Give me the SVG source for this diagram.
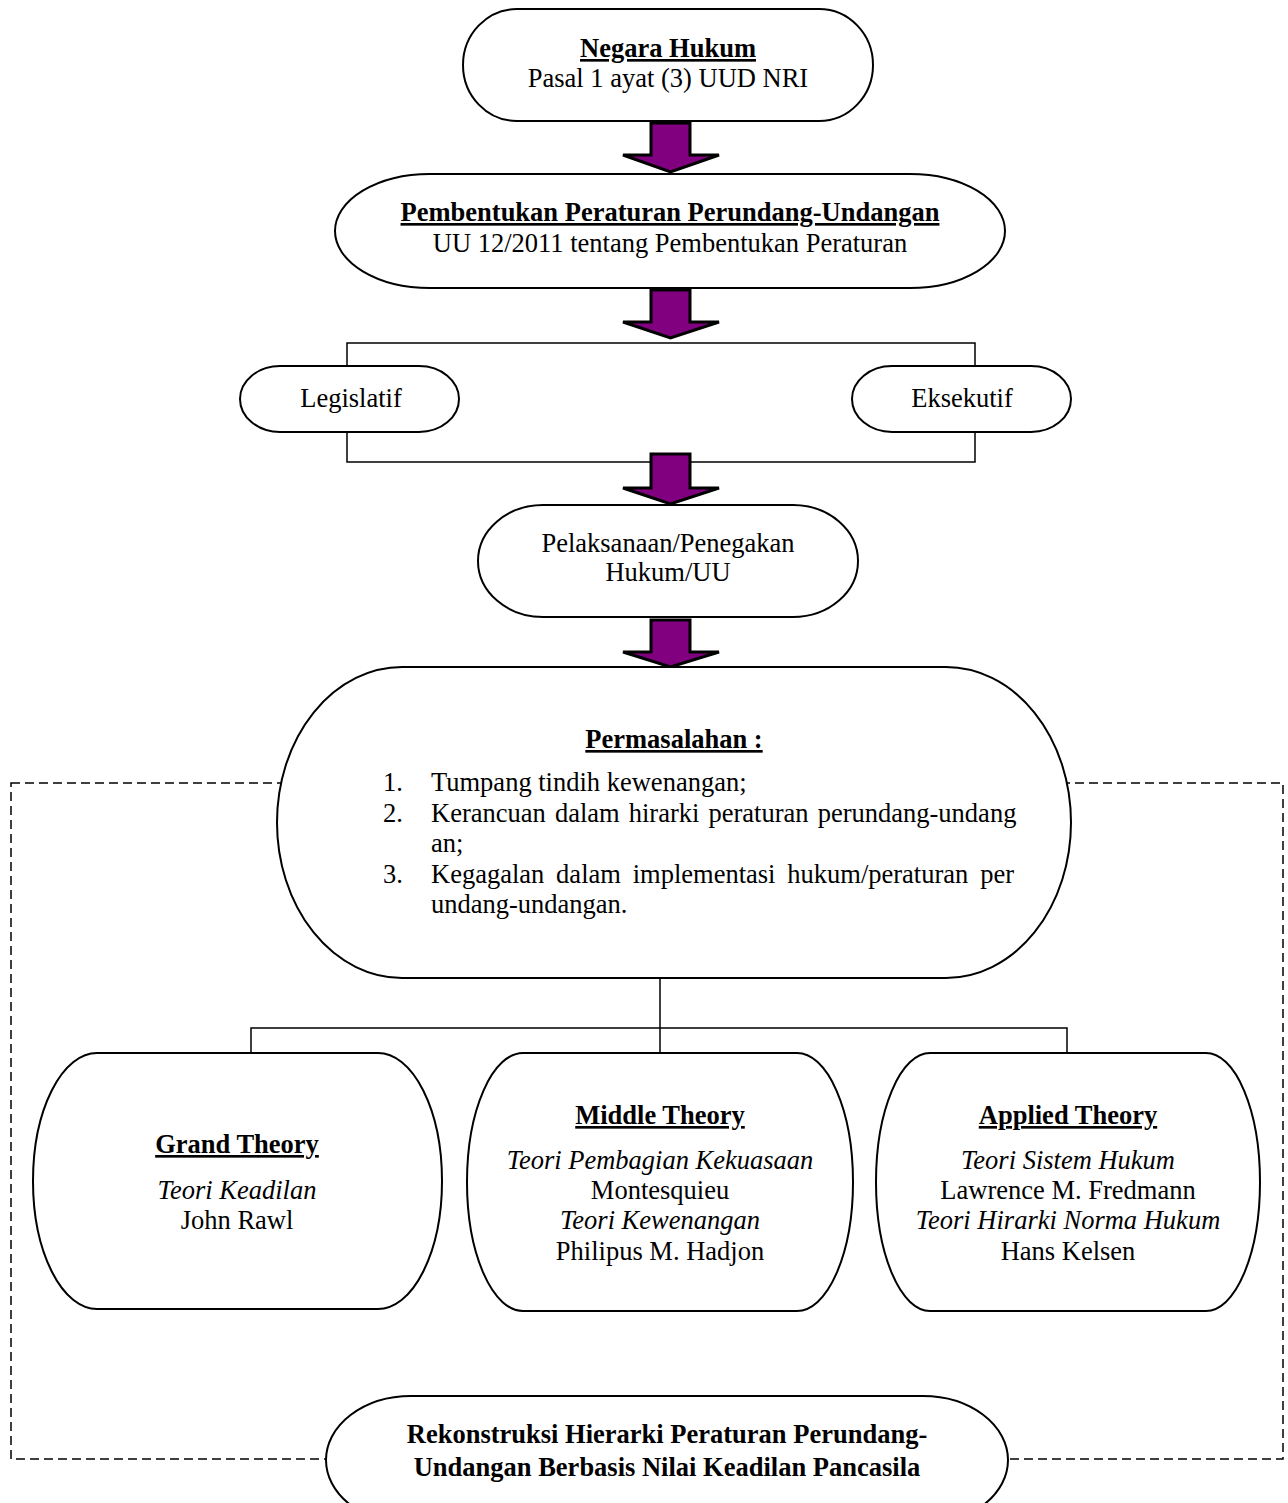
<svg xmlns="http://www.w3.org/2000/svg" width="1288" height="1503" viewBox="0 0 1288 1503">
<style>
.node{fill:#fff;stroke:#000;stroke-width:2}
.t{font-family:"Liberation Serif","Times New Roman",serif;font-size:26.5px;fill:#000}
.c{text-anchor:middle}
.b{font-weight:bold;text-decoration:underline}
.bb{font-weight:bold}
.i{font-style:italic}
.line{fill:none;stroke:#000;stroke-width:1.5}
.dash{fill:none;stroke:#000;stroke-width:1.5;stroke-dasharray:9 5}
.arrow{fill:#800080;stroke:#000;stroke-width:3;stroke-linejoin:miter}
</style>
<rect width="1288" height="1503" fill="#fff"/>
<rect class="dash" x="11" y="783" width="1272" height="676"/>
<g id="connectors">
<path class="line" d="M347,370 V343 H975 V370"/>
<path class="line" d="M347,432 V462 H975 V432"/>
<path class="line" d="M660,978 V1055"/>
<path class="line" d="M251,1055 V1028 H1067 V1055"/>
<polygon class="arrow" points="651,123 690,123 690,155 719,155 670.5,172 623,155 651,155"/>
<polygon class="arrow" points="651,290 690,290 690,322 719,322 670.5,338 623,322 651,322"/>
<polygon class="arrow" points="651,454 690,454 690,488 719,488 670.5,504 623,488 651,488"/>
<polygon class="arrow" points="651,620 690,620 690,652 719,652 670.5,667 623,652 651,652"/>
</g>
<g id="negara-hukum">
<rect class="node" x="463" y="9" width="410" height="112" rx="54" ry="56"/>
<text class="t c b" x="668" y="57">Negara Hukum</text>
<text class="t c" x="668" y="87">Pasal 1 ayat (3) UUD NRI</text>
</g>
<g id="pembentukan">
<rect class="node" x="335" y="174" width="670" height="114" rx="95" ry="57"/>
<text class="t c b" x="670" y="221">Pembentukan Peraturan Perundang-Undangan</text>
<text class="t c" x="670" y="252">UU 12/2011 tentang Pembentukan Peraturan</text>
</g>
<g id="legislatif">
<rect class="node" x="240" y="366" width="219" height="66" rx="40" ry="33"/>
<text class="t c" x="351" y="407">Legislatif</text>
</g>
<g id="eksekutif">
<rect class="node" x="852" y="366" width="219" height="66" rx="40" ry="33"/>
<text class="t c" x="962" y="407">Eksekutif</text>
</g>
<g id="pelaksanaan">
<rect class="node" x="478" y="505" width="380" height="112" rx="65" ry="56"/>
<text class="t c" x="668" y="552">Pelaksanaan/Penegakan</text>
<text class="t c" x="668" y="581">Hukum/UU</text>
</g>
<g id="permasalahan">
<rect class="node" x="277" y="667" width="794" height="311" rx="125" ry="155.5"/>
<text class="t c b" x="674" y="748">Permasalahan :</text>
<text class="t" x="383" y="791">1.</text>
<text class="t" x="431" y="791">Tumpang tindih kewenangan;</text>
<text class="t" x="383" y="822">2.</text>
<text class="t" x="431" y="822" word-spacing="2.5">Kerancuan dalam hirarki peraturan perundang-undang</text>
<text class="t" x="431" y="852">an;</text>
<text class="t" x="383" y="883">3.</text>
<text class="t" x="431" y="883" word-spacing="5.2">Kegagalan dalam implementasi hukum/peraturan per</text>
<text class="t" x="431" y="913">undang-undangan.</text>
</g>
<g id="grand-theory">
<rect class="node" x="33" y="1053" width="409" height="256" rx="64" ry="128"/>
<text class="t c b" x="237" y="1153">Grand Theory</text>
<text class="t c i" x="237" y="1199">Teori Keadilan</text>
<text class="t c" x="237" y="1229">John Rawl</text>
</g>
<g id="middle-theory">
<rect class="node" x="467" y="1053" width="386" height="258" rx="56" ry="129"/>
<text class="t c b" x="660" y="1124">Middle Theory</text>
<text class="t c i" x="660" y="1169">Teori Pembagian Kekuasaan</text>
<text class="t c" x="660" y="1199">Montesquieu</text>
<text class="t c i" x="660" y="1229">Teori Kewenangan</text>
<text class="t c" x="660" y="1260">Philipus M. Hadjon</text>
</g>
<g id="applied-theory">
<rect class="node" x="876" y="1053" width="384" height="258" rx="54" ry="129"/>
<text class="t c b" x="1068" y="1124">Applied Theory</text>
<text class="t c i" x="1068" y="1169">Teori Sistem Hukum</text>
<text class="t c" x="1068" y="1199">Lawrence M. Fredmann</text>
<text class="t c i" x="1068" y="1229">Teori Hirarki Norma Hukum</text>
<text class="t c" x="1068" y="1260">Hans Kelsen</text>
</g>
<g id="rekonstruksi">
<rect class="node" x="326" y="1396" width="682" height="128" rx="85" ry="64"/>
<text class="t c bb" x="667" y="1443">Rekonstruksi Hierarki Peraturan Perundang-</text>
<text class="t c bb" x="667" y="1476">Undangan Berbasis Nilai Keadilan Pancasila</text>
</g>
</svg>
